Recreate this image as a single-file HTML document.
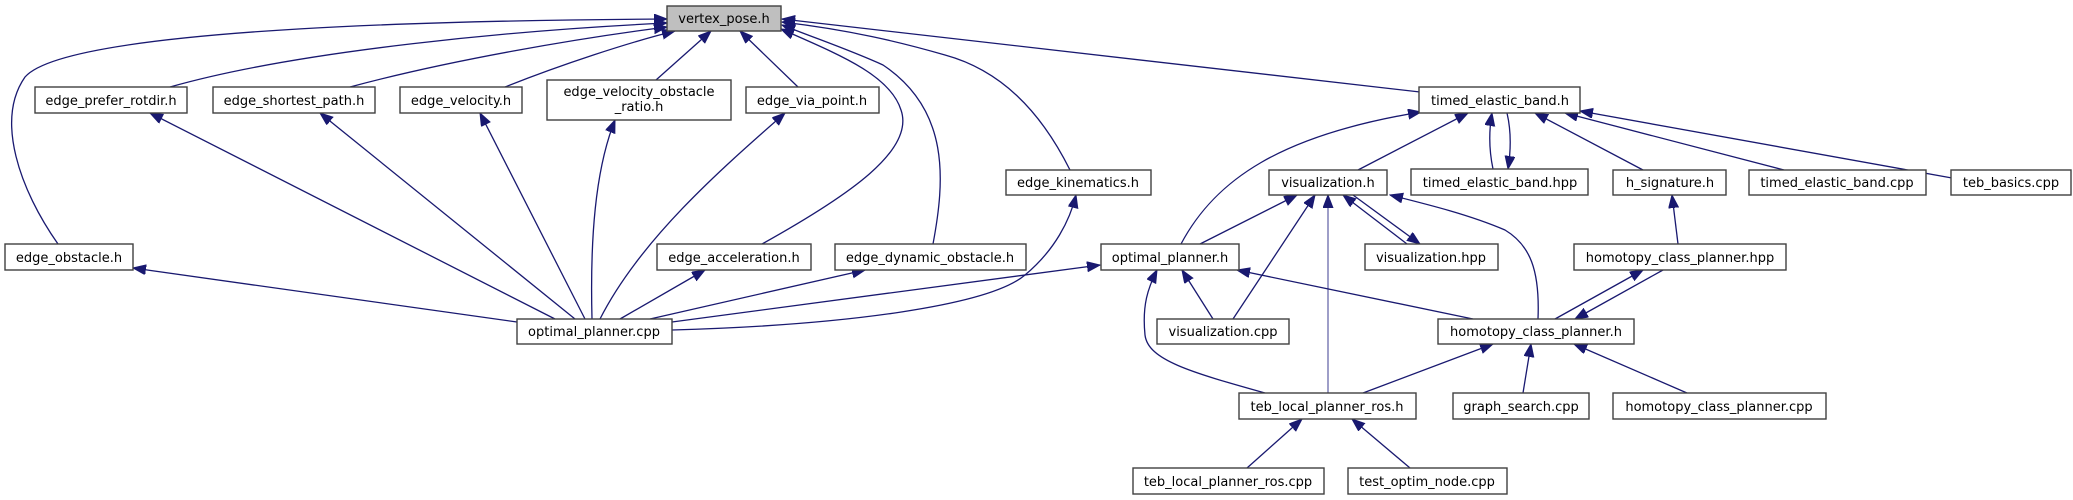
<!DOCTYPE html>
<html><head><meta charset="utf-8"><style>
html,body{margin:0;padding:0;background:#fff;}
svg{display:block;}
text{font-family:"DejaVu Sans","Liberation Sans",sans-serif;font-size:13px;fill:#000;}
.b{fill:#fff;stroke:#404040;stroke-width:1.4;}
.e{fill:none;stroke:#191970;stroke-width:1.3;}
</style></head><body>
<svg width="2073" height="500" viewBox="0 0 2073 500" xmlns="http://www.w3.org/2000/svg">
<defs>
<marker id="a" markerUnits="userSpaceOnUse" markerWidth="14" markerHeight="12" refX="13" refY="5" orient="auto">
<path d="M0,0 L13,5 L0,10 Z" fill="#191970" stroke="#191970"/>
</marker>
</defs>
<g class="edges">
<path class="e" marker-end="url(#a)" d="M58,244 C20,190 -5,120 25,77 C70,25 500,20 667,19"/>
<path class="e" marker-end="url(#a)" d="M170,87 C300,50 520,30 667,23"/>
<path class="e" marker-end="url(#a)" d="M350,87 C450,60 580,38 667,27"/>
<path class="e" marker-end="url(#a)" d="M505,87 C560,65 630,42 675,31"/>
<path class="e" marker-end="url(#a)" d="M656,80 L711,31"/>
<path class="e" marker-end="url(#a)" d="M798,87 L740,31"/>
<path class="e" marker-end="url(#a)" d="M762,244 C850,195 915,150 901,110 C890,75 840,55 781,29"/>
<path class="e" marker-end="url(#a)" d="M933,244 C945,180 950,110 883,65 C850,50 820,40 782,25"/>
<path class="e" marker-end="url(#a)" d="M1070,170 C1040,110 1000,70 945,55 C900,42 850,30 782,22"/>
<path class="e" marker-end="url(#a)" d="M1420,92 L782,19"/>
<path class="e" marker-end="url(#a)" d="M555,319 L150,113"/>
<path class="e" marker-end="url(#a)" d="M575,319 L320,113"/>
<path class="e" marker-end="url(#a)" d="M585,319 L480,113"/>
<path class="e" marker-end="url(#a)" d="M592,319 C590,240 595,170 615,120"/>
<path class="e" marker-end="url(#a)" d="M600,319 C640,240 720,170 785,113"/>
<path class="e" marker-end="url(#a)" d="M517,322 L133,268"/>
<path class="e" marker-end="url(#a)" d="M620,319 L705,270"/>
<path class="e" marker-end="url(#a)" d="M650,319 L865,270"/>
<path class="e" marker-end="url(#a)" d="M672,330 C850,325 990,305 1025,275 C1055,250 1070,220 1076,195"/>
<path class="e" marker-end="url(#a)" d="M672,322 L1100,265"/>
<path class="e" marker-end="url(#a)" d="M1181,244 C1215,180 1280,135 1421,112"/>
<path class="e" marker-end="url(#a)" d="M1358,170 L1468,113"/>
<path class="e" marker-end="url(#a)" d="M1493,169 C1489,150 1489,130 1492,113"/>
<path class="e" marker-end="url(#a)" d="M1507,113 C1511,130 1511,150 1508,169"/>
<path class="e" marker-end="url(#a)" d="M1643,170 L1535,113"/>
<path class="e" marker-end="url(#a)" d="M1784,170 L1565,113"/>
<path class="e" marker-end="url(#a)" d="M1952,178 L1580,111"/>
<path class="e" marker-end="url(#a)" d="M1200,244 L1297,195"/>
<path class="e" marker-end="url(#a)" d="M1233,319 L1315,195"/>
<path class="e" marker-end="url(#a)" style="stroke:#6a6aaa" d="M1328,393 L1328,195"/>
<path class="e" marker-end="url(#a)" d="M1407,244 L1343,195"/>
<path class="e" marker-end="url(#a)" d="M1353,195 L1420,244"/>
<path class="e" marker-end="url(#a)" d="M1538,319 C1540,270 1530,245 1505,230 C1470,215 1430,205 1390,195"/>
<path class="e" marker-end="url(#a)" d="M1213,319 L1182,270"/>
<path class="e" marker-end="url(#a)" d="M1265,393 C1190,372 1148,360 1145,335 C1142,305 1148,288 1157,270"/>
<path class="e" marker-end="url(#a)" d="M1473,319 L1237,270"/>
<path class="e" marker-end="url(#a)" d="M1555,319 L1643,270"/>
<path class="e" marker-end="url(#a)" d="M1663,270 L1575,319"/>
<path class="e" marker-end="url(#a)" d="M1678,244 L1672,195"/>
<path class="e" marker-end="url(#a)" d="M1363,393 L1493,344"/>
<path class="e" marker-end="url(#a)" d="M1523,393 L1531,344"/>
<path class="e" marker-end="url(#a)" d="M1687,393 L1574,344"/>
<path class="e" marker-end="url(#a)" d="M1247,468 L1302,419"/>
<path class="e" marker-end="url(#a)" d="M1410,468 L1352,419"/>
</g>
<g text-anchor="middle">
<rect x="667" y="6" width="114" height="25" style="fill:#bfbfbf;stroke:#404040;stroke-width:1.4"/><text x="724" y="23">vertex_pose.h</text>
<rect class="b" x="35" y="87" width="152" height="26"/><text x="111" y="105">edge_prefer_rotdir.h</text>
<rect class="b" x="213" y="87" width="162" height="26"/><text x="294" y="105">edge_shortest_path.h</text>
<rect class="b" x="400" y="87" width="122" height="26"/><text x="461" y="105">edge_velocity.h</text>
<rect class="b" x="547" y="80" width="184" height="40"/><text x="639" y="96">edge_velocity_obstacle</text><text x="639" y="111">_ratio.h</text>
<rect class="b" x="746" y="87" width="133" height="26"/><text x="812" y="105">edge_via_point.h</text>
<rect class="b" x="1419" y="87" width="161" height="26"/><text x="1500" y="105">timed_elastic_band.h</text>
<rect class="b" x="1006" y="170" width="145" height="25"/><text x="1078" y="187">edge_kinematics.h</text>
<rect class="b" x="1269" y="170" width="118" height="25"/><text x="1328" y="187">visualization.h</text>
<rect class="b" x="1411" y="169" width="177" height="26"/><text x="1500" y="187">timed_elastic_band.hpp</text>
<rect class="b" x="1613" y="170" width="113" height="25"/><text x="1670" y="187">h_signature.h</text>
<rect class="b" x="1749" y="170" width="177" height="25"/><text x="1837" y="187">timed_elastic_band.cpp</text>
<rect class="b" x="1951" y="170" width="120" height="25"/><text x="2011" y="187">teb_basics.cpp</text>
<rect class="b" x="5" y="244" width="128" height="26"/><text x="69" y="262">edge_obstacle.h</text>
<rect class="b" x="657" y="244" width="154" height="26"/><text x="734" y="262">edge_acceleration.h</text>
<rect class="b" x="835" y="244" width="191" height="26"/><text x="930" y="262">edge_dynamic_obstacle.h</text>
<rect class="b" x="1101" y="244" width="138" height="26"/><text x="1170" y="262">optimal_planner.h</text>
<rect class="b" x="1365" y="244" width="133" height="26"/><text x="1431" y="262">visualization.hpp</text>
<rect class="b" x="1574" y="244" width="212" height="26"/><text x="1680" y="262">homotopy_class_planner.hpp</text>
<rect class="b" x="517" y="319" width="155" height="25"/><text x="594" y="336">optimal_planner.cpp</text>
<rect class="b" x="1157" y="319" width="132" height="25"/><text x="1223" y="336">visualization.cpp</text>
<rect class="b" x="1438" y="319" width="196" height="25"/><text x="1536" y="336">homotopy_class_planner.h</text>
<rect class="b" x="1239" y="393" width="177" height="26"/><text x="1327" y="411">teb_local_planner_ros.h</text>
<rect class="b" x="1453" y="393" width="136" height="26"/><text x="1521" y="411">graph_search.cpp</text>
<rect class="b" x="1613" y="393" width="213" height="26"/><text x="1719" y="411">homotopy_class_planner.cpp</text>
<rect class="b" x="1133" y="468" width="191" height="26"/><text x="1228" y="486">teb_local_planner_ros.cpp</text>
<rect class="b" x="1348" y="468" width="159" height="26"/><text x="1427" y="486">test_optim_node.cpp</text>
</g>
</svg>
</body></html>
